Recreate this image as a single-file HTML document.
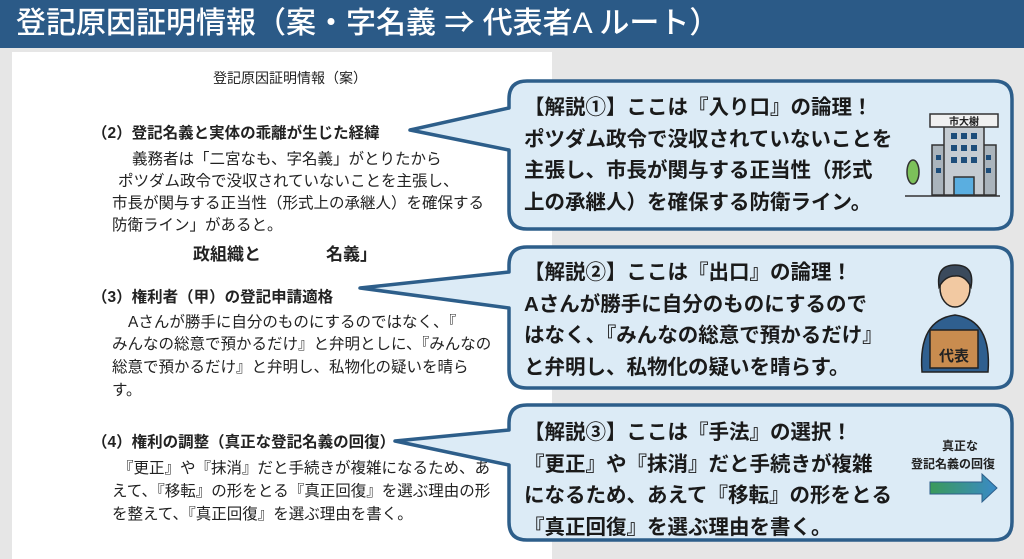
<!DOCTYPE html>
<html><head><meta charset="utf-8"><style>
body{margin:0;width:1024px;height:559px;overflow:hidden;background:#e6e6e6;font-family:"Liberation Sans","Noto Sans CJK JP",sans-serif;position:relative}
.bar{position:absolute;left:0;top:0;width:1024px;height:48px;background:#2b5a87;color:#fff;font-size:30px;line-height:48px;padding-left:16px;box-sizing:border-box;font-weight:500}
.paper{position:absolute;left:12px;top:52px;width:540px;height:507px;background:#fff}
.t{position:absolute;white-space:nowrap;color:#222;font-size:15.5px}
.h{font-weight:bold}
.c{position:absolute;white-space:nowrap;font-weight:bold;font-size:20.5px;color:#1a1a1a;line-height:31.5px}
</style></head><body>
<div class="bar">登記原因証明情報（案・字名義 ⇒ 代表者A ルート）</div>
<div class="paper"></div>
<div class="t" style="left:213px;top:68px;font-size:14px">登記原因証明情報（案）</div>
<div class="t h" style="left:92px;top:121px">（2）登記名義と実体の乖離が生じた経緯</div>
<div class="t" style="left:132px;top:147px">義務者は「二宮なも、字名義」がとりたから</div>
<div class="t" style="left:118px;top:169px">ポツダム政令で没収されていないことを主張し、</div>
<div class="t" style="left:112px;top:191px">市長が関与する正当性（形式上の承継人）を確保する</div>
<div class="t" style="left:112px;top:213px">防衛ライン」があると。</div>
<div class="t h" style="left:193px;top:240px;font-size:17px">政組織と</div>
<div class="t h" style="left:326px;top:240px;font-size:17px">名義」</div>
<div class="t h" style="left:92px;top:285px">（3）権利者（甲）の登記申請適格</div>
<div class="t" style="left:128px;top:310px">Aさんが勝手に自分のものにするのではなく、『</div>
<div class="t" style="left:112px;top:332px">みんなの総意で預かるだけ』と弁明としに、『みんなの</div>
<div class="t" style="left:112px;top:355px">総意で預かるだけ』と弁明し、私物化の疑いを晴ら</div>
<div class="t" style="left:112px;top:378px">す。</div>
<div class="t h" style="left:92px;top:430px">（4）権利の調整（真正な登記名義の回復）</div>
<div class="t" style="left:118px;top:456px">『更正』や『抹消』だと手続きが複雑になるため、あ</div>
<div class="t" style="left:112px;top:479px">えて、『移転』の形をとる『真正回復』を選ぶ理由の形</div>
<div class="t" style="left:112px;top:502px">を整えて、『真正回復』を選ぶ理由を書く。</div>
<svg width="1024" height="559" style="position:absolute;left:0;top:0">
<g fill="#dcebf6" stroke="#2d5e8a" stroke-width="3.5" stroke-linejoin="round">
<path d="M527 81 H994 Q1012 81 1012 99 V211 Q1012 229 994 229 H527 Q509 229 509 211 V150 L410 130 L509 108 V99 Q509 81 527 81Z"/>
<path d="M527 247 H994 Q1012 247 1012 265 V370 Q1012 388 994 388 H527 Q509 388 509 370 V308 L360 288 L509 272 V265 Q509 247 527 247Z"/>
<path d="M527 405 H994 Q1012 405 1012 423 V522 Q1012 540 994 540 H527 Q509 540 509 522 V465 L395 441 L509 430 V423 Q509 405 527 405Z"/>
</g>
<g stroke="#333" stroke-width="1.5">
<rect x="932" y="145" width="64" height="50" fill="#aab4bc"/>
<rect x="944" y="120" width="40" height="75" fill="#c5ccd2"/>
<rect x="930" y="114" width="68" height="13" fill="#f0f0f0"/>
<rect x="954" y="177" width="20" height="18" fill="#5aaee0"/>
<ellipse cx="913" cy="172" rx="6" ry="12" fill="#7cc15a"/>
<line x1="905" y1="196" x2="1000" y2="196"/>
</g>
<text x="964" y="125" font-size="10" font-weight="bold" text-anchor="middle" fill="#222" font-family="Liberation Sans,Noto Sans CJK JP,sans-serif">市大榭</text>
<g fill="#1d4d7a">
<rect x="951" y="133" width="6" height="6"/><rect x="961" y="133" width="6" height="6"/><rect x="971" y="133" width="6" height="6"/>
<rect x="951" y="145" width="6" height="6"/><rect x="961" y="145" width="6" height="6"/><rect x="971" y="145" width="6" height="6"/>
<rect x="951" y="157" width="6" height="6"/><rect x="961" y="157" width="6" height="6"/><rect x="971" y="157" width="6" height="6"/>
<rect x="936" y="155" width="5" height="5"/><rect x="936" y="168" width="5" height="5"/><rect x="986" y="155" width="5" height="5"/><rect x="986" y="168" width="5" height="5"/>
</g>
<g stroke="#222" stroke-width="1.5">
<path d="M922 372 Q918 320 955 315 Q992 320 988 372Z" fill="#2f5f8f"/>
<ellipse cx="955" cy="288" rx="15" ry="19" fill="#f2c9a2"/>
<path d="M939 287 Q936 265 955 265 Q975 265 971 287 Q965 275 955 276 Q945 276 939 287Z" fill="#3b4a5c"/>
<rect x="930" y="330" width="48" height="38" fill="#c98c4f"/>
</g>
<text x="954" y="361" font-size="15" font-weight="bold" text-anchor="middle" fill="#222" font-family="Liberation Sans,Noto Sans CJK JP,sans-serif">代表</text>
<defs><linearGradient id="g" x1="0" x2="1"><stop offset="0" stop-color="#3a9a5a"/><stop offset="1" stop-color="#3a8ac8"/></linearGradient></defs>
<path d="M930 482 H982 V474 L997 488 L982 502 V494 H930Z" fill="url(#g)" stroke="#2d5e8a" stroke-width="1"/>
</svg>
<div class="t h" style="left:942px;top:437px;font-size:12px">真正な</div>
<div class="t h" style="left:911px;top:455px;font-size:12px">登記名義の回復</div>
<div class="c" style="left:524px;top:92px">【解説①】ここは『入り口』の論理！<br>ポツダム政令で没収されていないことを<br>主張し、市長が関与する正当性（形式<br>上の承継人）を確保する防衛ライン。</div>
<div class="c" style="left:524px;top:257px">【解説②】ここは『出口』の論理！<br>Aさんが勝手に自分のものにするので<br>はなく、『みんなの総意で預かるだけ』<br>と弁明し、私物化の疑いを晴らす。</div>
<div class="c" style="left:524px;top:417px">【解説③】ここは『手法』の選択！<br>『更正』や『抹消』だと手続きが複雑<br>になるため、あえて『移転』の形をとる<br>『真正回復』を選ぶ理由を書く。</div>
</body></html>
